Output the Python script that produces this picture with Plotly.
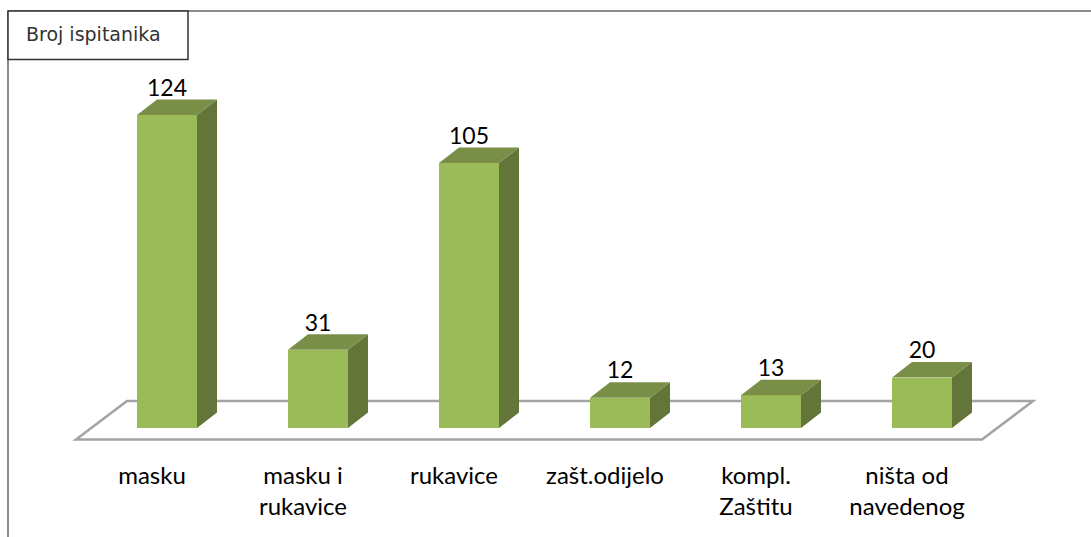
import plotly.graph_objects as go

# Data
categories = ["masku", "masku i<br>rukavice", "rukavice", "zašt.odijelo", "kompl.<br>Zaštitu", "ništa od<br>navedenog"]
values = [124, 31, 105, 12, 13, 20]
chart_title = "Broj ispitanika"

# Canvas / scale set-up (pixels of the 1091x537 page)
W, H = 1091, 537
PLOT_BOTTOM = 445
X0_PX, X_UNIT = 167, 151      # pixel of category 0, pixels per category
Y0_PX, Y_UNIT = 428, 2.524    # pixel of value 0, pixels per value unit

BAR_W = 60 / X_UNIT
DEPTH_X = 20 / X_UNIT
DEPTH_Y = 15.5 / Y_UNIT
LABEL_SHIFT = 15 / X_UNIT     # category labels sit left of the bars, at the floor's centre line
VALUE_LABEL_DROP = 2 / Y_UNIT

FRONT, SIDE, TOP = "#9BBB59", "#647539", "#798F48"
FLOOR_LINE, FRAME_LINE = "#A3A3A3", "#8C8C8C"
FONT = "Lato, Carlito, Calibri, sans-serif"


def dx(px):
    return (px - X0_PX) / X_UNIT


def dy(px):
    return (Y0_PX - px) / Y_UNIT


def px_x(px):
    return px / W


def px_y(px):
    return 1 - px / PLOT_BOTTOM


xs = list(range(len(values)))
fig = go.Figure()

# Front faces
fig.add_trace(go.Bar(x=xs, y=values, width=BAR_W, marker=dict(color=FRONT, line=dict(width=0)),
                     showlegend=False, hoverinfo="x+y"))

# Side and top faces, derived from each value
for x, v in zip(xs, values):
    r = x + BAR_W / 2
    l = x - BAR_W / 2
    fig.add_trace(go.Scatter(
        x=[r, r + DEPTH_X, r + DEPTH_X, r, r], y=[0, DEPTH_Y, v + DEPTH_Y, v, 0],
        mode="lines", fill="toself", fillcolor=SIDE, line=dict(width=0),
        showlegend=False, hoverinfo="skip"))
    fig.add_trace(go.Scatter(
        x=[l, r, r + DEPTH_X, l + DEPTH_X, l], y=[v, v, v + DEPTH_Y, v + DEPTH_Y, v],
        mode="lines", fill="toself", fillcolor=TOP, line=dict(width=0),
        showlegend=False, hoverinfo="skip"))

# Value labels
fig.add_trace(go.Scatter(
    x=xs, y=[v + DEPTH_Y - VALUE_LABEL_DROP for v in values], mode="text", text=[str(v) for v in values],
    textposition="top center", textfont=dict(family=FONT, size=23, color="#000000"),
    showlegend=False, hoverinfo="skip"))

shapes = [
    # Floor
    dict(type="path", xref="x", yref="y", layer="below",
         path=f"M {dx(76)} {dy(439.5)} L {dx(127)} {dy(401)} L {dx(1033)} {dy(401)} L {dx(982)} {dy(439.5)} Z",
         fillcolor="#FFFFFF", line=dict(color=FLOOR_LINE, width=2.5)),
    # Chart frame
    dict(type="line", xref="paper", yref="paper", x0=px_x(8), x1=1, y0=px_y(11), y1=px_y(11),
         line=dict(color=FRAME_LINE, width=2)),
    dict(type="line", xref="paper", yref="paper", x0=px_x(8), x1=px_x(8), y0=px_y(11), y1=px_y(H),
         line=dict(color=FRAME_LINE, width=2)),
    # Title box
    dict(type="rect", xref="paper", yref="paper", x0=px_x(8), x1=px_x(188), y0=px_y(11), y1=px_y(59.5),
         fillcolor="#FFFFFF", line=dict(color="#333333", width=1.5)),
]

fig.update_layout(
    width=W, height=H,
    margin=dict(l=0, r=0, t=0, b=H - PLOT_BOTTOM, autoexpand=False),
    paper_bgcolor="#FFFFFF", plot_bgcolor="#FFFFFF",
    bargap=0,
    shapes=shapes,
    annotations=[dict(text=chart_title, xref="paper", yref="paper", x=px_x(93.5), y=px_y(34),
                      xanchor="center", yanchor="middle", showarrow=False,
                      font=dict(family="DejaVu Sans", size=19, color="#333333"))],
    xaxis=dict(range=[dx(0), dx(W)], tickmode="array", tickvals=[x - LABEL_SHIFT for x in xs],
               ticktext=categories,
               tickfont=dict(family=FONT, size=24, color="#000000"),
               ticklen=0, showline=False, showgrid=False, zeroline=False, tickangle=0,
               ticklabelstandoff=14, automargin=False),
    yaxis=dict(range=[dy(PLOT_BOTTOM), dy(0)], visible=False, showgrid=False, zeroline=False),
)

fig.write_html("out.html", config=dict(displayModeBar=False),
               post_script="document.body.style.margin='0';")
